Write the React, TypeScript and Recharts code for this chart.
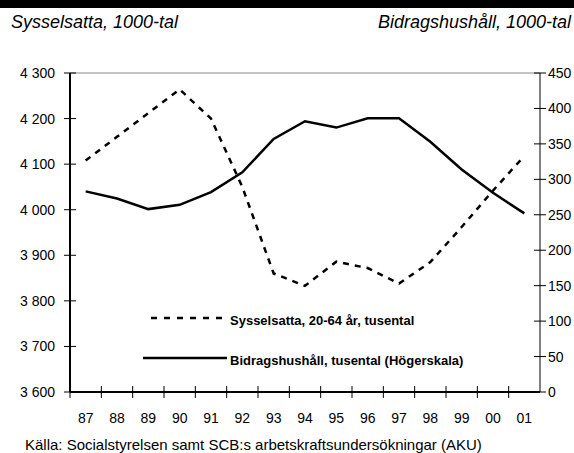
import React from 'react';
import {
  ComposedChart,
  Line,
  XAxis,
  YAxis,
  ReferenceLine
} from 'recharts';

const years = ['87', '88', '89', '90', '91', '92', '93', '94', '95', '96', '97', '98', '99', '00', '01'];
const sysselsatta = [4108, 4160, 4212, 4264, 4200, 4050, 3860, 3833, 3886, 3872, 3838, 3885, 3962, 4042, 4118];
const bidragshushall = [283, 273, 258, 264, 282, 310, 357, 382, 373, 386, 386, 353, 314, 281, 252];
const leftTicks = [3600, 3700, 3800, 3900, 4000, 4100, 4200, 4300];
const rightTicks = [0, 50, 100, 150, 200, 250, 300, 350, 400, 450];

const data = years.map((year, i) => ({
  year,
  sysselsatta: sysselsatta[i],
  bidrag: bidragshushall[i]
}));

const W = 574;
const H = 453;
const LEFT = 70;
const RIGHT = 34;
const PLOT_W = W - LEFT - RIGHT;
const BAND = PLOT_W / years.length;

const FONT = '"Liberation Sans", Arial, sans-serif';

const fmt = (v: number) => String(v).replace(/\B(?=(\d{3})+(?!\d))/g, ' ');

const XTick = (props: any) => {
  const { x, y, payload } = props;
  return (
    <g>
      <line x1={x - BAND / 2} x2={x - BAND / 2} y1={y - 6} y2={y + 6} stroke="#000" strokeWidth={1} />
      <text x={x} y={y + 31} textAnchor="middle" fontFamily={FONT} fontSize={14} fill="#000">
        {payload.value}
      </text>
    </g>
  );
};

const LeftTick = (props: any) => {
  const { x, y, payload } = props;
  return (
    <g>
      <line x1={x - 6} x2={x + 6} y1={y} y2={y} stroke="#000" strokeWidth={1} />
      <text x={x - 15} y={y + 5} textAnchor="end" fontFamily={FONT} fontSize={14} fill="#000">
        {fmt(payload.value)}
      </text>
    </g>
  );
};

const RightTick = (props: any) => {
  const { x, y, payload } = props;
  return (
    <g>
      <line x1={x - 6} x2={x + 6} y1={y} y2={y} stroke="#000" strokeWidth={1} />
      <text x={x + 8} y={y + 5} textAnchor="start" fontFamily={FONT} fontSize={14} fill="#000">
        {payload.value}
      </text>
    </g>
  );
};

export default function App() {
  return (
    <div style={{ position: 'absolute', left: 0, top: 0, width: W, height: H, background: '#fff', overflow: 'hidden' }}>
      <div style={{ position: 'absolute', left: 0, top: 0, width: W, height: 8, background: '#000' }} />
      <div style={{ position: 'absolute', left: 11, top: 12, fontFamily: FONT, fontStyle: 'italic', fontSize: 18, lineHeight: '20px' }}>
        Sysselsatta, 1000-tal
      </div>
      <div style={{ position: 'absolute', right: 3, top: 12, fontFamily: FONT, fontStyle: 'italic', fontSize: 18, lineHeight: '20px' }}>
        Bidragshushåll, 1000-tal
      </div>
      <div style={{ position: 'absolute', left: 0, top: 0 }}>
        <ComposedChart width={W} height={H} data={data} margin={{ top: 73, right: 0, bottom: 0, left: 0 }}>
          <XAxis
            dataKey="year"
            scale="band"
            height={61}
            interval={0}
            tickSize={0}
            tickMargin={0}
            tickLine={false}
            tick={<XTick />}
            axisLine={{ stroke: '#000', strokeWidth: 2 }}
          />
          <YAxis
            yAxisId="left"
            orientation="left"
            width={LEFT}
            domain={[3600, 4300]}
            ticks={leftTicks}
            interval={0}
            tickSize={0}
            tickMargin={0}
            tickLine={false}
            tick={<LeftTick />}
            axisLine={{ stroke: '#000', strokeWidth: 2 }}
          />
          <YAxis
            yAxisId="right"
            orientation="right"
            width={RIGHT}
            domain={[0, 450]}
            ticks={rightTicks}
            interval={0}
            tickSize={0}
            tickMargin={0}
            tickLine={false}
            tick={<RightTick />}
            axisLine={{ stroke: '#000', strokeWidth: 1 }}
          />
          <ReferenceLine yAxisId="left" y={4300} stroke="#888" strokeWidth={1} />
          <Line
            yAxisId="left"
            type="linear"
            dataKey="sysselsatta"
            stroke="#000"
            strokeWidth={2.5}
            strokeDasharray="6 6"
            dot={false}
            isAnimationActive={false}
          />
          <Line
            yAxisId="right"
            type="linear"
            dataKey="bidrag"
            stroke="#000"
            strokeWidth={2.5}
            dot={false}
            isAnimationActive={false}
          />
        </ComposedChart>
      </div>
      {/* Legend */}
      <svg width={380} height={66} style={{ position: 'absolute', left: 140, top: 306 }}>
        <line x1={11} x2={85} y1={12} y2={12} stroke="#000" strokeWidth={2.5} strokeDasharray="6 7" />
        <text x={90} y={19} fontFamily={FONT} fontWeight="bold" fontSize={13} fill="#000">
          Sysselsatta, 20-64 år, tusental
        </text>
        <line x1={3} x2={87} y1={52} y2={52} stroke="#000" strokeWidth={2.5} />
        <text x={90} y={59} fontFamily={FONT} fontWeight="bold" fontSize={13} fill="#000">
          Bidragshushåll, tusental (Högerskala)
        </text>
      </svg>
      <div style={{ position: 'absolute', left: 25, top: 436, fontFamily: FONT, fontSize: 15, lineHeight: '17px' }}>
        Källa: Socialstyrelsen samt SCB:s arbetskraftsundersökningar (AKU)
      </div>
    </div>
  );
}
